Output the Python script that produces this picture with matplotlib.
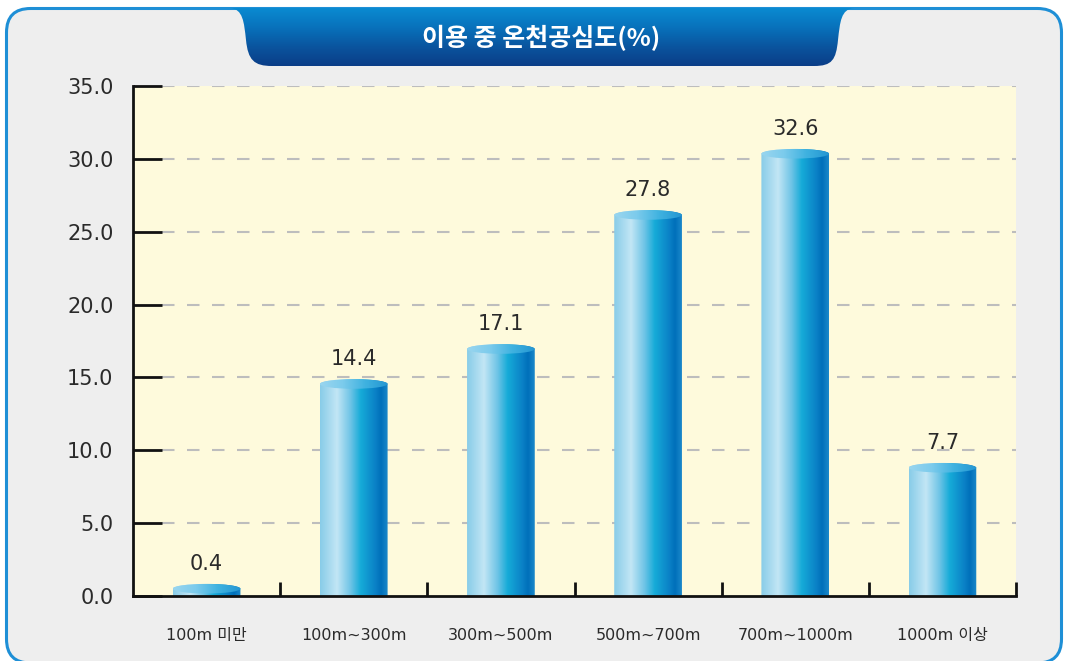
import numpy as np
import matplotlib
matplotlib.use("Agg")
import matplotlib.pyplot as plt
from matplotlib.colors import LinearSegmentedColormap
from matplotlib.patches import FancyBboxPatch, PathPatch, Ellipse
from matplotlib.path import Path

# ---------------- data ----------------
title = "이용 중 온천공심도(%)"
categories = ["100m 미만", "100m~300m", "300m~500m", "500m~700m", "700m~1000m", "1000m 이상"]
values = [0.4, 14.4, 17.1, 27.8, 32.6, 7.7]            # printed labels
bar_heights = [0.5, 14.55, 16.95, 26.15, 30.35, 8.8]    # heights as drawn in the picture
yticks = [0, 5, 10, 15, 20, 25, 30, 35]

W, H = 1068, 661
fig = plt.figure(figsize=(W / 100, H / 100), dpi=100, facecolor="white")

# ---------------- background frame ----------------
bg = fig.add_axes([0, 0, 1, 1], zorder=0)
bg.set_xlim(0, W)
bg.set_ylim(H, 0)
bg.axis("off")
frame = FancyBboxPatch((6.5, 8.5), W - 13, H - 6.5, boxstyle="round,pad=0,rounding_size=24",
                       facecolor="#EEEEEE", edgecolor="#1E8FD6", linewidth=2.2)
bg.add_patch(frame)

# title tab
verts = [(230, 8),
         (243, 9), (244, 22), (246, 40),
         (248, 60), (254, 66), (272, 66),
         (814, 66),
         (832, 66), (836, 60), (838, 40),
         (840, 22), (841, 9), (854, 8),
         (230, 8)]
codes = [Path.MOVETO,
         Path.CURVE4, Path.CURVE4, Path.CURVE4,
         Path.CURVE4, Path.CURVE4, Path.CURVE4,
         Path.LINETO,
         Path.CURVE4, Path.CURVE4, Path.CURVE4,
         Path.CURVE4, Path.CURVE4, Path.CURVE4,
         Path.CLOSEPOLY]
tab = PathPatch(Path(verts, codes), facecolor="none", edgecolor="none")
bg.add_patch(tab)
tab_cmap = LinearSegmentedColormap.from_list("tab", ["#0A8CD2", "#0872BC", "#0A549E", "#0B3C86"])
grad = np.linspace(0, 1, 256).reshape(-1, 1)
im = bg.imshow(grad, cmap=tab_cmap, extent=[225, 860, 67, 7], aspect="auto", zorder=2)
im.set_clip_path(tab)
bg.text(541, 38, title, color="white", fontsize=18, fontweight="bold",
        family=["Noto Sans CJK KR", "DejaVu Sans"], ha="center", va="center", zorder=3)

# ---------------- main axes ----------------
ax = fig.add_axes([133 / W, 1 - 596 / H, (1016 - 133) / W, (596 - 86) / H], zorder=1)
ax.set_facecolor("#FEFADC")
ax.set_xlim(-0.5, len(categories) - 0.5)
ax.set_ylim(0, 35)

for s in ["top", "right"]:
    ax.spines[s].set_visible(False)
for s in ["left", "bottom"]:
    ax.spines[s].set_linewidth(2)
    ax.spines[s].set_color("#111111")

ax.set_yticks(yticks)
ax.set_yticklabels([f"{v:.1f}" for v in yticks], fontsize=15, family="DejaVu Sans", color="#2A2A2A")
ax.tick_params(axis="y", direction="in", length=21, width=2, pad=14, color="#111111")

x = np.arange(len(categories))
ax.set_xticks(x)
ax.set_xticklabels(categories, fontsize=11.5, family=["DejaVu Sans", "Noto Sans CJK KR"], color="#2A2A2A")
ax.tick_params(axis="x", which="major", length=0, pad=23)
ax.set_xticks(np.arange(len(categories)) + 0.5, minor=True)
ax.tick_params(axis="x", which="minor", direction="in", length=10, width=2, color="#111111")

# dashed grid
for yv in yticks[1:]:
    ax.plot([-0.3, len(categories) - 0.5], [yv, yv], color="#BDBDBD", lw=1.5,
            dashes=(6, 6), zorder=0.5, solid_capstyle="butt")

# ---------------- cylinders ----------------
body_cmap = LinearSegmentedColormap.from_list(
    "body", [(0.0, "#88CCE8"), (0.25, "#C2E6F5"), (0.45, "#6EC4E6"), (0.6, "#16ABD8"),
             (0.82, "#0A80C6"), (0.9, "#0070BA"), (1.0, "#1B88CA")])
top_cmap = LinearSegmentedColormap.from_list(
    "top", ["#9AD6EF", "#7CCBEC", "#3FB2E0", "#2496D2"])
hgrad = np.linspace(0, 1, 256).reshape(1, -1)

bw = 0.46
e = 0.33  # half height of ellipse in data units
for xi, h, v in zip(x, bar_heights, values):
    x0, x1 = xi - bw / 2, xi + bw / 2
    th = np.linspace(np.pi, 0, 60)
    pts = [(x0, 0), (x0, h)] + [(xi + bw / 2 * np.cos(t), h + e * np.sin(t)) for t in th] + [(x1, 0), (x0, 0)]
    body = PathPatch(Path(pts), facecolor="none", edgecolor="none", transform=ax.transData)
    ax.add_patch(body)
    bim = ax.imshow(hgrad, cmap=body_cmap, extent=[x0, x1, 0, h + e], aspect="auto", zorder=2)
    bim.set_clip_path(body)
    ell = Ellipse((xi, h), bw, 2 * e, facecolor="none", edgecolor="none", transform=ax.transData)
    ax.add_patch(ell)
    tim = ax.imshow(hgrad, cmap=top_cmap, extent=[x0, x1, h - e, h + e], aspect="auto", zorder=3)
    tim.set_clip_path(ell)
    ax.annotate(f"{v}", (xi, h), xytext=(0, 18), textcoords="offset points",
                ha="center", va="center", fontsize=15, family="DejaVu Sans", color="#2A2A2A", zorder=4)

ax.set_xlim(-0.5, len(categories) - 0.5)
ax.set_ylim(0, 35)

fig.savefig("out.png", dpi=100, facecolor="white")
